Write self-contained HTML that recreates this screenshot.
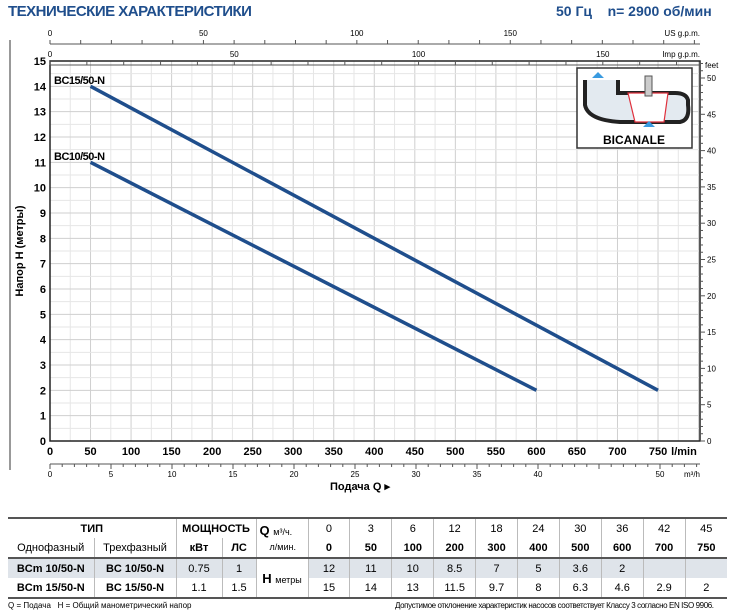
<!DOCTYPE html>
<html><head><meta charset="utf-8"><style>
body{margin:0;width:730px;height:614px;background:#fff;font-family:"Liberation Sans",sans-serif;overflow:hidden;position:relative}
.t{position:absolute;white-space:nowrap}
table{position:absolute;left:8px;top:517px;width:719px;border-collapse:collapse;font-size:11px;font-family:"Liberation Sans",sans-serif;table-layout:fixed}
td{text-align:center;padding:0;height:19px;border-left:1px solid #bbb;white-space:nowrap;overflow:hidden}
td:first-child{border-left:none}
</style></head><body>
<div class="t" style="left:8px;top:3px;font-size:15px;font-weight:bold;color:#1f4e8c;letter-spacing:-0.5px">ТЕХНИЧЕСКИЕ ХАРАКТЕРИСТИКИ</div>
<div class="t" style="left:556px;top:3px;font-size:14px;font-weight:bold;color:#1f4e8c">50 Гц &nbsp;&nbsp; n= 2900 об/мин</div>
<svg id="ch" width="730" height="514" style="position:absolute;left:0;top:0" font-family="Liberation Sans, sans-serif"></svg>
<table>
<colgroup><col style="width:86px"><col style="width:82px"><col style="width:46px"><col style="width:34px"><col style="width:52px"><col span="10" style="width:41.9px"></colgroup>
<tr style="border-top:2px solid #555"><td colspan="2" style="font-weight:bold">ТИП</td><td colspan="2" style="font-weight:bold">МОЩНОСТЬ</td><td rowspan="2" style="font-weight:bold;font-size:13px;text-align:left;padding-left:3px">Q <span style="font-size:9px;font-weight:normal">м³/ч.<br>&nbsp;&nbsp;&nbsp;&nbsp;л/мин.</span></td><td>0</td><td>3</td><td>6</td><td>12</td><td>18</td><td>24</td><td>30</td><td>36</td><td>42</td><td>45</td></tr>
<tr style="font-weight:bold"><td style="font-weight:normal">Однофазный</td><td style="font-weight:normal">Трехфазный</td><td>кВт</td><td>ЛС</td><td>0</td><td>50</td><td>100</td><td>200</td><td>300</td><td>400</td><td>500</td><td>600</td><td>700</td><td>750</td></tr>
<tr style="background:#dfe4ea;border-top:2px solid #555;height:20px"><td style="font-weight:bold">BCm 10/50-N</td><td style="font-weight:bold">BC 10/50-N</td><td>0.75</td><td>1</td><td rowspan="2" style="background:#fff;font-weight:bold;font-size:13px">H <span style="font-size:9px;font-weight:normal">метры</span></td><td>12</td><td>11</td><td>10</td><td>8.5</td><td>7</td><td>5</td><td>3.6</td><td>2</td><td></td><td></td></tr>
<tr style="border-bottom:2px solid #555;height:20px"><td style="font-weight:bold">BCm 15/50-N</td><td style="font-weight:bold">BC 15/50-N</td><td>1.1</td><td>1.5</td><td>15</td><td>14</td><td>13</td><td>11.5</td><td>9.7</td><td>8</td><td>6.3</td><td>4.6</td><td>2.9</td><td>2</td></tr>
</table>
<div class="t" style="left:8px;top:601px;font-size:8px">Q = Подача &nbsp; H = Общий манометрический напор</div>
<div class="t" style="left:395px;top:601px;font-size:8px;letter-spacing:-0.4px">Допустимое отклонение характеристик насосов соответствует Классу 3 согласно EN ISO 9906.</div>
<script>
const qLmin10=[50,600];
const h10=[11,2];
const qLmin15=[50,750];
const h15=[14,2];
const xTicks=[0,50,100,150,200,250,300,350,400,450,500,550,600,650,700,750];
const yTicks=[0,1,2,3,4,5,6,7,8,9,10,11,12,13,14,15];
const m3Ticks=[0,5,10,15,20,25,30,35,40,50];
const usTicks=[0,50,100,150];
const impTicks=[0,50,100,150];
const feetTicks=[0,5,10,15,20,25,30,35,40,45,50];
const X0=50,XR=700,Y0=441,YT=61,KX=0.8107,KY=(441-61)/15;
const sx=q=>X0+q*KX, sy=h=>Y0-h*KY;
const s=document.getElementById('ch'),NS='http://www.w3.org/2000/svg';
function mk(tag,a,txt){const e=document.createElementNS(NS,tag);for(const k in a)e.setAttribute(k,a[k]);if(txt!==undefined)e.textContent=txt;s.appendChild(e);return e;}
let e;
e=mk('line',{x1:10,y1:40,x2:10,y2:470,stroke:'#999','stroke-width':2});


for(let q=0;q<=800;q+=25){e=mk('line',{x1:sx(q),y1:YT,x2:sx(q),y2:Y0,stroke:q%50?'#e6e6e6':'#cfcfcf','stroke-width':1});

}
for(let h=0;h<=15;h+=0.5){e=mk('line',{x1:X0,y1:sy(h),x2:XR,y2:sy(h),stroke:h%1?'#e6e6e6':'#cfcfcf','stroke-width':1});

}
e=mk('rect',{x:X0,y:YT,width:XR-X0,height:Y0-YT,fill:'none',stroke:'#222','stroke-width':1.5});


xTicks.forEach(v=>{e=mk('text',{x:sx(v),y:455,'font-size':11,'font-weight':'bold','text-anchor':'middle'},v);

});
e=mk('text',{x:684,y:455,'font-size':11,'font-weight':'bold','text-anchor':'middle'},'l/min');


yTicks.forEach(v=>{e=mk('text',{x:46,y:sy(v)+4,'font-size':11,'font-weight':'bold','text-anchor':'end'},v);

});
const KM=(660-50)/50;
e=mk('line',{x1:50,y1:464,x2:700,y2:464,stroke:'#555'});


for(let m=0;m<=53;m++){e=mk('line',{x1:50+m*KM,y1:464,x2:50+m*KM,y2:m%5?467:469,stroke:'#555'});

}
m3Ticks.forEach(v=>{e=mk('text',{x:50+v*KM,y:477,'font-size':8,'text-anchor':'middle'},v);

});
e=mk('text',{x:692,y:477,'font-size':8,'text-anchor':'middle'},'m³/h');


e=mk('text',{x:360,y:490,'font-size':11,'font-weight':'bold','text-anchor':'middle'},'Подача  Q  ▸');


function topAxis(y,k,ticks,unit,nm,maxv){e=mk('line',{x1:50,y1:y,x2:700,y2:y,stroke:'#555'});


for(let v=0;v<=maxv;v+=10){e=mk('line',{x1:sx(v*k),y1:y,x2:sx(v*k),y2:y-4,stroke:'#555'});

}
ticks.forEach(v=>{e=mk('text',{x:sx(v*k),y:y-8,'font-size':8,'text-anchor':'middle'},v);

});
e=mk('text',{x:700,y:y-8,'font-size':8,'text-anchor':'end'},unit);

}
topAxis(44,3.785,usTicks,'US g.p.m.','usgpm',210);
topAxis(65,4.546,impTicks,'Imp g.p.m.','impgpm',170);
const KF=(441-78)/50;
for(let f=0;f<=52;f++){e=mk('line',{x1:700,y1:Y0-f*KF,x2:f%5?703:705,y2:Y0-f*KF,stroke:'#555'});

}
feetTicks.forEach(v=>{e=mk('text',{x:707,y:Y0-v*KF+3,'font-size':8},v);

});
e=mk('text',{x:705,y:68,'font-size':8},'feet');


e=mk('text',{x:0,y:0,'font-size':11,'font-weight':'bold','text-anchor':'middle',transform:'translate(23,251) rotate(-90)'},'Напор H  (метры)');


function curve(q,h,nm,lbl,ly){e=mk('polyline',{points:q.map((v,i)=>sx(v)+','+sy(h[i])).join(' '),fill:'none',stroke:'#1f4e8c','stroke-width':3.5});


e=mk('text',{x:54,y:ly,'font-size':11,'font-weight':'bold','letter-spacing':-0.5},lbl);

}
curve(qLmin15,h15,'curve-bc15','BC15/50-N',84);
curve(qLmin10,h10,'curve-bc10','BC10/50-N',160);
e=mk('rect',{x:577,y:68,width:115,height:80,fill:'#fff',stroke:'#333','stroke-width':1.5});


e=mk('path',{d:'M585 80 V105 Q588 120 620 122 H680 Q690 120 688 105 V100 Q686 93 675 93 H618 V80',fill:'#e3eaf0',stroke:'#222','stroke-width':4});


e=mk('path',{d:'M628 93 H668 L664 122 H635 Z',fill:'#fff',stroke:'#e0303c','stroke-width':1.2});


e=mk('rect',{x:645,y:76,width:7,height:20,fill:'#ccc',stroke:'#555'});


e=mk('path',{d:'M592 78 L598 72 L604 78 Z M643 127 L649 121 L655 127 Z',fill:'#3a9be0'});


e=mk('text',{x:634,y:144,'font-size':12,'font-weight':'bold','text-anchor':'middle'},'BICANALE');


</script>
</body></html>
